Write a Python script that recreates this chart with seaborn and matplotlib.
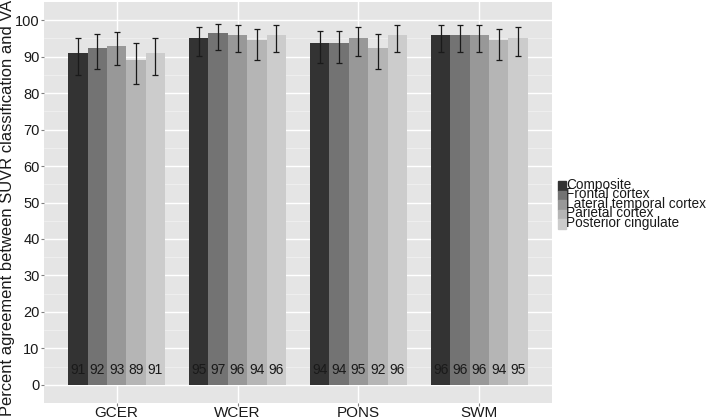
import pandas as pd
import seaborn as sns
import matplotlib.pyplot as plt
import numpy as np

# Data
references = ['GCER', 'WCER', 'PONS', 'SWM']
regions = ['Composite', 'Frontal cortex', 'Lateral temporal cortex',
           'Parietal cortex', 'Posterior cingulate']

# percent agreement, one list per reference region (order = regions)
agree_gcer = [91.0, 92.5, 93.0, 89.0, 91.0]
agree_wcer = [95.2, 96.5, 95.9, 94.5, 95.9]
agree_pons = [93.8, 93.8, 95.2, 92.5, 95.9]
agree_swm = [95.9, 95.9, 95.9, 94.6, 95.2]

# confidence interval bounds
lower_gcer = [85.0, 86.7, 87.7, 82.5, 85.0]
lower_wcer = [90.2, 91.9, 91.2, 89.1, 91.2]
lower_pons = [88.3, 88.3, 90.2, 86.7, 91.2]
lower_swm = [91.2, 91.2, 91.2, 89.2, 90.2]

upper_gcer = [95.1, 96.2, 96.7, 93.7, 95.1]
upper_wcer = [98.1, 99.0, 98.6, 97.7, 98.6]
upper_pons = [97.0, 97.0, 98.1, 96.2, 98.6]
upper_swm = [98.6, 98.6, 98.6, 97.7, 98.1]

# rounded labels printed in the bars
labels_gcer = ['91', '92', '93', '89', '91']
labels_wcer = ['95', '97', '96', '94', '96']
labels_pons = ['94', '94', '95', '92', '96']
labels_swm = ['96', '96', '96', '94', '95']

grey_fill = ['#333333', '#737373', '#989898', '#b5b5b5', '#cccccc']

agree = [agree_gcer, agree_wcer, agree_pons, agree_swm]
lower = [lower_gcer, lower_wcer, lower_pons, lower_swm]
upper = [upper_gcer, upper_wcer, upper_pons, upper_swm]
labels = [labels_gcer, labels_wcer, labels_pons, labels_swm]

rows = []
for i, ref in enumerate(references):
    for j, reg in enumerate(regions):
        rows.append({'reference': ref, 'region': reg, 'agree': agree[i][j],
                     'lo': lower[i][j], 'hi': upper[i][j], 'label': labels[i][j]})
df = pd.DataFrame(rows)

plt.rcParams['font.family'] = ['Liberation Sans', 'DejaVu Sans']

W, H = 711, 420
fig = plt.figure(figsize=(W / 100, H / 100), dpi=100)
ax = fig.add_axes([44 / W, 17 / H, 508 / W, 401 / H])
ax.set_facecolor('#e5e5e5')

sns.barplot(data=df, x='reference', y='agree', hue='region', order=references,
            hue_order=regions, palette=grey_fill, width=0.8, errorbar=None,
            saturation=1, linewidth=0, ax=ax, zorder=2)

# error bars and value labels placed on each bar
for j, reg in enumerate(regions):
    cont = ax.containers[j]
    sub = df[df['region'] == reg].set_index('reference').loc[references]
    for patch, (_, r) in zip(cont.patches, sub.iterrows()):
        xc = patch.get_x() + patch.get_width() / 2
        ax.errorbar(xc, r['agree'], yerr=[[r['agree'] - r['lo']], [r['hi'] - r['agree']]],
                    fmt='none', ecolor='#1a1a1a', elinewidth=0.9, capsize=2.2,
                    capthick=0.9, zorder=3)
        ax.text(xc, 4, r['label'], ha='center', va='center', fontsize=10,
                color='#1a1a1a', zorder=4)

ax.set_xlim(-0.6, 3.6)
ax.set_ylim(-5, 105)
ax.set_yticks(np.arange(0, 101, 10))
ax.set_yticks(np.arange(5, 100, 10), minor=True)
ax.grid(True, which='major', color='white', linewidth=1.0, zorder=0)
ax.grid(True, which='minor', axis='y', color='#f2f2f2', linewidth=0.5, zorder=0)
ax.set_axisbelow(True)
for s in ax.spines.values():
    s.set_visible(False)
ax.tick_params(axis='y', which='major', length=2.2, color='#7f7f7f',
               labelsize=10.5, labelcolor='#1a1a1a', pad=1)
ax.tick_params(axis='x', which='major', length=2.2, color='#7f7f7f',
               labelsize=11, labelcolor='#1a1a1a', pad=0)
ax.tick_params(axis='both', which='minor', length=0)
ax.set_xlabel('')
ax.set_ylabel('')
ax.get_legend().remove()

# y title: sized to run the full height like the reference
ylab = fig.text(8 / W, 1 - 208 / H, 'Percent agreement between SUVR classification and VA',
                rotation=90, ha='center', va='center', fontsize=11, color='#1a1a1a')
fig.canvas.draw()
h = ylab.get_window_extent().height
ylab.set_fontsize(11 * 414 / h)

# legend drawn by hand: tightly stacked keys as in the reference
key_top = 181
key_h = 9.6
for j, (reg, col) in enumerate(zip(regions, grey_fill)):
    top = key_top + j * key_h
    fig.patches.append(plt.Rectangle((558 / W, 1 - (top + key_h) / H), 7.5 / W, key_h / H,
                                     transform=fig.transFigure, color=col, figure=fig))
    fig.text(566.5 / W, 1 - (top + key_h - 2) / H, reg, ha='left', va='baseline',
             fontsize=9.8, color='#1a1a1a')

fig.savefig('out.png', dpi=100)
